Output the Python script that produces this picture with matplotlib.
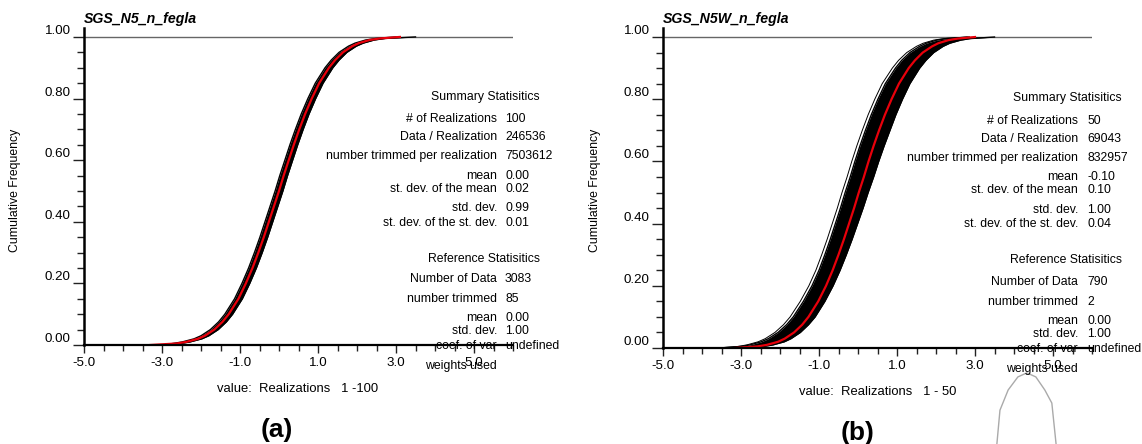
import matplotlib
matplotlib.use("Agg")
import matplotlib.pyplot as plt
from matplotlib.ticker import MultipleLocator, FixedLocator, FixedFormatter

plt.rcParams['font.family'] = ['Liberation Sans', 'DejaVu Sans']

# ---------------- data ----------------
P = [0.0, 0.005, 0.01, 0.02, 0.03, 0.05, 0.075, 0.10, 0.15, 0.20, 0.25, 0.30, 0.35,
     0.40, 0.45, 0.50, 0.55, 0.60, 0.65, 0.70, 0.75, 0.80, 0.85, 0.90, 0.925, 0.95,
     0.97, 0.98, 0.99, 0.995, 1.0]

# panel (a)
a_ref = [-3.30, -2.62, -2.38, -2.08, -1.90, -1.66, -1.45, -1.29, -1.04, -0.85, -0.68,
         -0.53, -0.39, -0.26, -0.13, 0.00, 0.12, 0.25, 0.38, 0.52, 0.67, 0.84, 1.03,
         1.28, 1.44, 1.64, 1.88, 2.05, 2.32, 2.58, 3.10]
a_low = [-2.95, -2.72, -2.48, -2.18, -2.00, -1.76, -1.55, -1.39, -1.14, -0.95, -0.78,
         -0.63, -0.49, -0.36, -0.23, -0.10, 0.02, 0.15, 0.28, 0.42, 0.57, 0.74, 0.93,
         1.18, 1.34, 1.54, 1.78, 1.95, 2.22, 2.48, 3.00]
a_high = [-2.70, -2.52, -2.28, -1.98, -1.80, -1.56, -1.35, -1.19, -0.94, -0.75, -0.58,
          -0.43, -0.29, -0.16, -0.03, 0.10, 0.22, 0.35, 0.48, 0.62, 0.77, 0.94, 1.13,
          1.38, 1.54, 1.74, 1.98, 2.16, 2.44, 2.72, 3.50]

# panel (b)
b_ref = [-3.15, -2.58, -2.34, -2.05, -1.88, -1.64, -1.43, -1.27, -1.02, -0.82, -0.65,
         -0.50, -0.36, -0.23, -0.10, 0.02, 0.15, 0.27, 0.40, 0.54, 0.69, 0.86, 1.05,
         1.30, 1.46, 1.66, 1.90, 2.06, 2.32, 2.56, 3.00]
b_low = [-3.55, -3.00, -2.77, -2.48, -2.30, -2.05, -1.83, -1.66, -1.40, -1.18, -1.00,
         -0.85, -0.71, -0.58, -0.45, -0.33, -0.20, -0.08, 0.05, 0.19, 0.34, 0.51, 0.70,
         0.96, 1.12, 1.33, 1.58, 1.75, 2.02, 2.28, 2.85]
b_high = [-2.90, -2.42, -2.18, -1.89, -1.72, -1.48, -1.27, -1.10, -0.85, -0.64, -0.46,
          -0.30, -0.15, -0.01, 0.13, 0.26, 0.40, 0.53, 0.67, 0.82, 0.97, 1.14, 1.33,
          1.58, 1.74, 1.94, 2.18, 2.35, 2.63, 2.88, 3.50]
b_outlier = [-3.60, -3.08, -2.85, -2.56, -2.38, -2.13, -1.91, -1.74, -1.48, -1.26, -1.08,
             -0.93, -0.79, -0.66, -0.53, -0.41, -0.28, -0.16, -0.03, 0.11, 0.26, 0.43,
             0.62, 0.88, 1.04, 1.25, 1.50, 1.67, 1.94, 2.20, 2.80]

# stray grey arc below panel (b)
arc_x = [3.56, 3.64, 3.85, 4.10, 4.33, 4.56, 4.79, 4.97, 5.08]
arc_y = [-0.31, -0.20, -0.135, -0.093, -0.080, -0.093, -0.135, -0.177, -0.31]

titles = ["SGS_N5_n_fegla", "SGS_N5W_n_fegla"]
xlabels = ["value:  Realizations   1 -100", "value:  Realizations   1 - 50"]
panel_tags = ["(a)", "(b)"]

x_ticks = [-5.0, -3.0, -1.0, 1.0, 3.0, 5.0]
x_ticklabels = ["-5.0", "-3.0", "-1.0", "1.0", "3.0", "5.0"]
y_ticks = [0.0, 0.2, 0.4, 0.6, 0.8, 1.0]
y_ticklabels = ["0.00", "0.20", "0.40", "0.60", "0.80", "1.00"]

sum_labels = ["# of Realizations", "Data / Realization", "number trimmed per realization",
              "mean", "st. dev. of the mean", "std. dev.", "st. dev. of the st. dev."]
a_sum_values = ["100", "246536", "7503612", "0.00", "0.02", "0.99", "0.01"]
b_sum_values = ["50", "69043", "832957", "-0.10", "0.10", "1.00", "0.04"]

ref_labels = ["Number of Data", "number trimmed", "mean", "std. dev.", "coef. of var",
              "weights used"]
a_ref_values = ["3083", "85", "0.00", "1.00", "undefined", ""]
b_ref_values = ["790", "2", "0.00", "1.00", "undefined", ""]

# ---------------- layout (pixels) ----------------
W, H = 1142, 444
fig = plt.figure(figsize=(W / 100, H / 100), dpi=100)


def fx(px):
    return px / W


def fy(py):
    return 1 - py / H


panels = [
    dict(ax_rect=(84, 513, 28, 345), ref=a_ref, low=a_low, high=a_high, outlier=None,
         sum_values=a_sum_values, ref_values=a_ref_values,
         lab_x=497, val_x=505, head_x=540,
         sum_y=[119, 137, 156, 176, 189, 208, 223], sum_head_y=97,
         ref_y=[279, 299, 318, 331, 346, 366], ref_head_y=259,
         ylab_x=15, xlab=(298, 389), tag=(277, 430), title_y=19),
    dict(ax_rect=(663, 1092, 28, 348), ref=b_ref, low=b_low, high=b_high, outlier=b_outlier,
         sum_values=b_sum_values, ref_values=b_ref_values,
         lab_x=1078, val_x=1087, head_x=1122,
         sum_y=[121, 139, 158, 177, 190, 210, 224], sum_head_y=98,
         ref_y=[282, 302, 321, 334, 349, 369], ref_head_y=260,
         ylab_x=595, xlab=(878, 392), tag=(858, 433), title_y=19),
]

FS = 8.8      # statistics text
TFS = 9.6     # tick labels
for i, pn in enumerate(panels):
    l, r, t, b = pn["ax_rect"]
    ax = fig.add_axes([fx(l), fy(b), (r - l) / W, (b - t) / H])
    ax.set_xlim(-5.0, 6.0)
    ax.set_ylim(0.0, 1.029)
    ax.patch.set_alpha(0)

    # realization bundle
    ax.fill_betweenx(P, pn["low"], pn["high"], color="black", lw=0)
    ax.plot(pn["low"], P, color="black", lw=1.0)
    ax.plot(pn["high"], P, color="black", lw=1.0)
    if pn["outlier"] is not None:
        ax.plot(pn["outlier"], P, color="black", lw=0.7)
        ax.plot(arc_x, arc_y, color="#aaaaaa", lw=1.0, clip_on=False)
    # reference cdf
    ax.plot(pn["ref"], P, color="#e8000b", lw=1.6)

    ax.axhline(1.0, color="#666666", lw=1.0, zorder=0)

    for s in ["top", "right"]:
        ax.spines[s].set_visible(False)
    ax.spines["left"].set_linewidth(1.8)
    ax.spines["bottom"].set_linewidth(1.6)

    ax.xaxis.set_major_locator(FixedLocator(x_ticks))
    ax.xaxis.set_major_formatter(FixedFormatter(x_ticklabels))
    ax.xaxis.set_minor_locator(MultipleLocator(0.5))
    ax.yaxis.set_major_locator(FixedLocator(y_ticks))
    ax.yaxis.set_major_formatter(FixedFormatter(y_ticklabels))
    ax.yaxis.set_minor_locator(MultipleLocator(0.05))
    ax.tick_params(axis="x", which="major", length=5.5, width=1.0, pad=3.0,
                   labelsize=TFS, color="#222222")
    ax.tick_params(axis="x", which="minor", length=4.5, width=1.0, color="#222222")
    ax.tick_params(axis="y", which="major", length=8, width=1.0, pad=1.5,
                   labelsize=TFS, color="#222222")
    ax.tick_params(axis="y", which="minor", length=5, width=1.0, color="#222222")
    for lab in ax.get_yticklabels():
        lab.set_va("bottom")

    # title
    fig.text(fx(l), fy(pn["title_y"]), titles[i], fontsize=10.2, fontweight="bold",
             fontstyle="italic", ha="left", va="center")
    # y label
    fig.text(fx(pn["ylab_x"]), fy(190), "Cumulative Frequency", rotation=90,
             fontsize=FS, ha="center", va="center")
    # x label
    fig.text(fx(pn["xlab"][0]), fy(pn["xlab"][1]), xlabels[i], fontsize=9.4,
             ha="center", va="center")
    # panel tag
    fig.text(fx(pn["tag"][0]), fy(pn["tag"][1]), panel_tags[i], fontsize=19,
             fontweight="bold", ha="center", va="center")

    # statistics
    fig.text(fx(pn["head_x"]), fy(pn["sum_head_y"]), "Summary Statisitics", fontsize=FS,
             ha="right", va="center")
    for lab, val, yy in zip(sum_labels, pn["sum_values"], pn["sum_y"]):
        fig.text(fx(pn["lab_x"]), fy(yy), lab, fontsize=FS, ha="right", va="center")
        fig.text(fx(pn["val_x"]), fy(yy), val, fontsize=FS, ha="left", va="center")
    fig.text(fx(pn["head_x"]), fy(pn["ref_head_y"]), "Reference Statisitics", fontsize=FS,
             ha="right", va="center")
    for lab, val, yy in zip(ref_labels, pn["ref_values"], pn["ref_y"]):
        fig.text(fx(pn["lab_x"]), fy(yy), lab, fontsize=FS, ha="right", va="center")
        if val:
            fig.text(fx(pn["val_x"]), fy(yy), val, fontsize=FS, ha="left", va="center")

fig.savefig("out.png", dpi=100)
